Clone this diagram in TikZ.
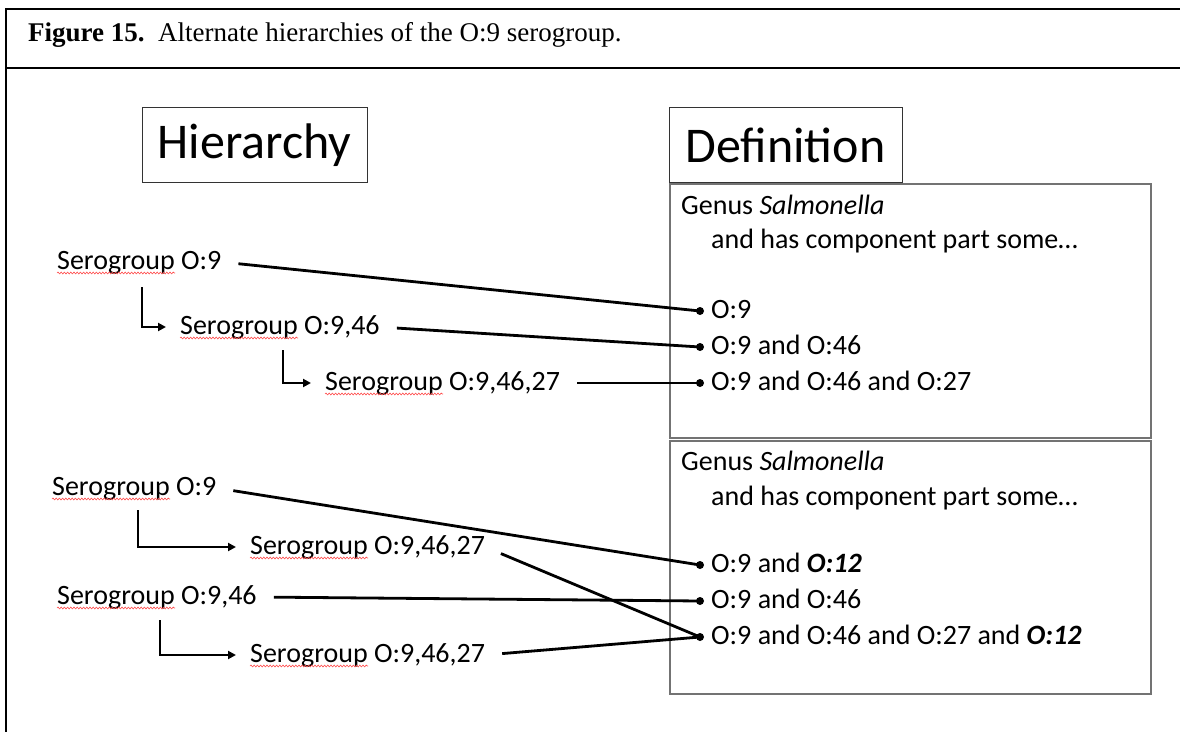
\documentclass[tikz,border=0pt]{standalone}
\usepackage{fontspec}
\setmainfont{Carlito}
\newfontfamily\timesf{Liberation Serif}
\usetikzlibrary{arrows.meta,decorations.pathmorphing}
\begin{document}
\begin{tikzpicture}[x=1bp,y=-1bp,
  lbl/.style={anchor=west,inner sep=0pt,text height=20bp,text depth=6bp,font=\fontsize{28bp}{33bp}\selectfont},
  hdr/.style={draw=black!80,line width=1bp,inner sep=0pt,font=\fontsize{50bp}{58bp}\selectfont,minimum height=74bp},
  defbox/.style={draw=black!55,line width=1.6bp,inner sep=0pt},
  conn/.style={line width=2.8bp,shorten <=17bp},
  elbowarrow/.style={line width=2.8bp,-{Triangle[length=8bp,width=8bp]},shorten >=14bp},
  squig/.style={draw=red!70,line width=0.6bp,decorate,decoration={snake,amplitude=0.9bp,segment length=3.2bp}},
  frameline/.style={line width=2.4bp},
  dot/.style={fill=black}
]
\useasboundingbox (0,0) rectangle (1180,732);
\fill[white] (0,0) rectangle (1180,732);
% frame
\draw[frameline] (1180,9) -- (6,9) -- (6,732);
\draw[frameline] (6,68) -- (1180,68);
% title
\node[anchor=base west,inner sep=0pt,font=\timesf\fontsize{27bp}{31bp}\selectfont] (title) at (28,42) {\textbf{Figure 15.}\ \ Alternate hierarchies of the O:9 serogroup.};
% headers
\node[hdr,minimum width=225bp] (hh) at (254.5,145) {Hierarchy};
\node[hdr,minimum width=233bp] (hd) at (785.5,145) {Definition};
% definition boxes
\node[defbox,minimum width=481bp,minimum height=254bp] (ub) at (910.5,311) {};
\node[defbox,minimum width=481bp,minimum height=253bp] (lb) at (910.5,567.5) {};
% box texts
\node[lbl] (ug) at (681,208) {Genus \textit{Salmonella}};
\node[lbl] (ua) at (711,241) {and has component part some…};
\node[lbl] (t1) at (711,311) {O:9};
\node[lbl] (t2) at (711,347) {O:9 and O:46};
\node[lbl] (t3) at (711,383) {O:9 and O:46 and O:27};
\node[lbl] (lg) at (681,463) {Genus \textit{Salmonella}};
\node[lbl] (la) at (711,498) {and has component part some…};
\node[lbl] (t4) at (711,565) {O:9 and \textbf{\textit{O:12}}};
\node[lbl] (t5) at (711,601) {O:9 and O:46};
\node[lbl] (t6) at (711,637) {O:9 and O:46 and O:27 and \textbf{\textit{O:12}}};
\foreach \i in {1,...,6} {
  \coordinate (d\i) at ([xshift=-11bp]t\i.west);
  \fill[dot] (d\i) circle (4bp);
}
% hierarchy texts
\node[lbl] (a1) at (57,262) {Serogroup O:9};
\node[lbl] (a2) at (180,327) {Serogroup O:9,46};
\node[lbl] (a3) at (325,383) {Serogroup O:9,46,27};
\node[lbl] (b1) at (52,488) {Serogroup O:9};
\node[lbl] (b2) at (250,547) {Serogroup O:9,46,27};
\node[lbl] (b3) at (57,597) {Serogroup O:9,46};
\node[lbl] (b4) at (250,655) {Serogroup O:9,46,27};
\foreach \n in {a1,a2,a3,b1,b2,b3,b4} {
  \draw[squig] ([yshift=-4bp]\n.base west) -- ++(118,0);
}
% elbows
\draw[elbowarrow] ([xshift=85bp,yshift=-25bp]a1.west) |- (a2.west);
\draw[elbowarrow] ([xshift=103bp,yshift=-23bp]a2.west) |- (a3.west);
\draw[elbowarrow] ([xshift=86bp,yshift=-22bp]b1.west) |- (b2.west);
\draw[elbowarrow] ([xshift=103bp,yshift=-23bp]b3.west) |- (b4.west);
% connectors
\draw[conn] (a1.east) -- (d1);
\draw[conn] (a2.east) -- (d2);
\draw[conn] (a3.east) -- (d3);
\draw[conn] (b1.east) -- (d4);
\draw[conn] (b2.east) -- (d6);
\draw[conn] (b3.east) -- (d5);
\draw[conn] (b4.east) -- (d6);
\end{tikzpicture}
\end{document}
